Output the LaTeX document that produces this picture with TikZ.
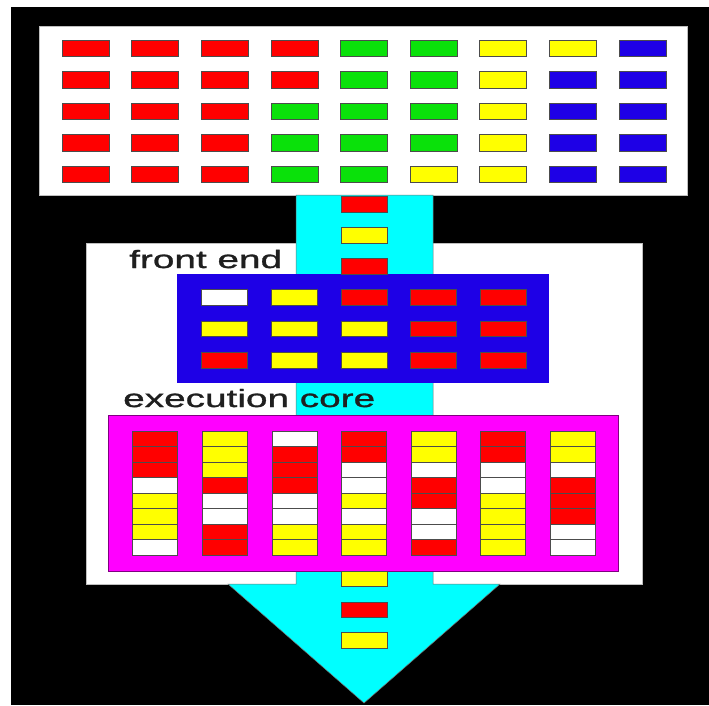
\documentclass[tikz,border=0pt]{standalone}
\usepackage{fontspec}
\newfontfamily\lblfont[FakeStretch=1.55,FakeBold=1.2]{Liberation Sans}
\usetikzlibrary{positioning}

\definecolor{cr}{RGB}{255,0,0}
\definecolor{cg}{RGB}{10,225,10}
\definecolor{cy}{RGB}{255,255,0}
\definecolor{cb}{RGB}{30,0,230}
\definecolor{cw}{RGB}{255,255,255}
\definecolor{ccyan}{RGB}{0,255,255}
\definecolor{cmag}{RGB}{255,0,255}

\begin{document}
\begin{tikzpicture}[
  x=1pt, y=-1pt,
  cell/.style={rectangle, draw=black!70, line width=0.7pt, inner sep=0pt, outer sep=0pt, minimum width=46pt, minimum height=15.5pt},
  panel/.style={rectangle, inner sep=0pt, outer sep=0pt},
  lbl/.style={font=\lblfont\fontsize{25}{30}\selectfont, text=black!88, inner sep=0pt, anchor=base west},
]

% === Frame ===
\fill[white] (0,0) rectangle (709,705);
\fill[black] (11,7) rectangle (709,705);
\useasboundingbox (0,0) rectangle (709,705);

% === Instruction queue (top) ===
\node[panel, fill=white, draw=black!25, minimum width=648pt, minimum height=169pt] (queue) at (363,110.5) {};
\foreach \row [count=\j from 0] in {{r,r,r,r,g,g,y,y,b},{r,r,r,r,g,g,y,b,b},{r,r,r,g,g,g,y,b,b},{r,r,r,g,g,g,y,b,b},{r,r,r,g,g,y,y,b,b}}
  \foreach \c [count=\i from 0] in \row
    \node[cell, fill=c\c, minimum width=47pt, minimum height=16.5pt] (q-\j-\i) at ({364+69.6*(\i-4)}, {48.5+31.5*\j}) {};

% === Processor (white panel) ===
\node[panel, fill=white, draw=black!25, minimum width=556pt, minimum height=341pt] (cpu) at (364,413.5) {};

% === Flow arrow ===
\coordinate (tip) at (364,703);
\filldraw[fill=ccyan, draw=black!55, line width=0.5pt]
  (296,195) -- (433,195) -- (433,584) -- (500,584) -- (tip) -- (228,584) -- (296,584) -- cycle;

% === Front end ===
\node[lbl] (felbl) at (129,268) {front end};
\node[panel, fill=cb, minimum width=372pt, minimum height=109pt] (fe) at (363,328.5) {};
\foreach \row [count=\j from 0] in {{w,y,r,r,r},{y,y,y,r,r},{r,y,y,r,r}}
  \foreach \c [count=\i from 0] in \row
    \node[cell, fill=c\c] (fe-\j-\i) at ({364+69.6*(\i-2)}, {297.5+31.5*\j}) {};

% === Execution core ===
\node[lbl] (exlbl) at (123,407) {execution core};
\node[panel, fill=cmag, draw=black!50!cmag, line width=0.6pt, minimum width=510pt, minimum height=156pt] (core) at (363,493) {};
\foreach \col [count=\k from 0] in {{r,r,r,w,y,y,y,w},{y,y,y,r,w,w,r,r},{w,r,r,r,w,w,y,y},{r,r,w,w,y,w,y,y},{y,y,w,r,r,w,w,r},{r,r,w,w,y,y,y,y},{y,y,w,r,r,r,w,w}}
  \foreach \c [count=\j from 0] in \col
    \node[cell, fill=c\c, minimum width=45pt] (ex-\k-\j) at ({364+69.6*(\k-3)}, {438.75+15.5*\j}) {};

% === In flight ===
\foreach \c [count=\j from 0] in {r,y,r}
  \node[cell, fill=c\c] (in-\j) at (364, {204.5+31*\j}) {};
\foreach \c [count=\j from 0] in {y,r,y}
  \node[cell, fill=c\c] (out-\j) at (364, {579+30.7*\j}) {};

\end{tikzpicture}
\end{document}
